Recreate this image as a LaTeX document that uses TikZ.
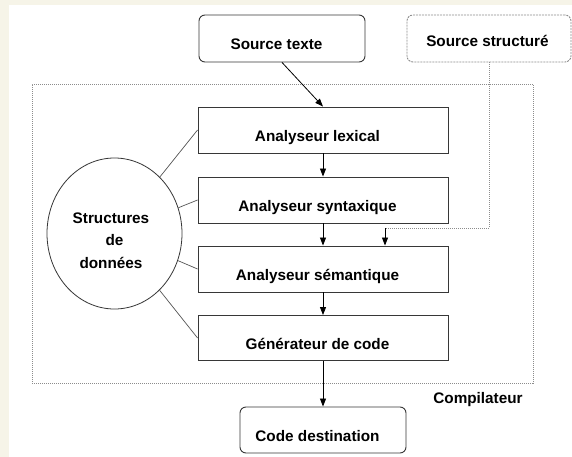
\documentclass[tikz,border=0pt]{standalone}
\usepackage{fontspec}
\setmainfont{Liberation Sans}
\usetikzlibrary{arrows.meta,shapes.geometric}
\definecolor{cream}{RGB}{246,244,232}
\definecolor{edge}{RGB}{55,55,55}
\definecolor{dotc}{RGB}{140,140,140}
\newcommand{\lpad}{\hspace*{11pt}}
\begin{document}
\begin{tikzpicture}[x=1pt,y=-1pt,
  every node/.style={font=\fontsize{15.3}{22.5}\selectfont\bfseries},
  box/.style={draw=edge, line width=0.9pt, minimum width=250pt, inner sep=0pt, text height=23pt, text depth=0pt},
  term/.style={draw=edge, line width=0.9pt, rounded corners=6pt, inner sep=0pt, text height=22pt, text depth=0pt},
  arr/.style={-{Triangle[length=8pt,width=6pt]}, line width=0.8pt},
  link/.style={draw=edge!85, line width=0.7pt},
  dotline/.style={draw=dotc, line width=0.7pt, dash pattern=on 1pt off 1pt}]
\fill[cream] (0,0) rectangle (572,457);
\fill[white] (9,5) rectangle (572,457);
% frame
\node[dotline, minimum width=501pt, minimum height=299pt, inner sep=0pt] (frame) at (282.5,233.5) {};
\node (lbl) at (478,400) {Compilateur};
% terminals
\node[term, minimum width=166pt, minimum height=47pt] (stex) at (282,38.5) {Source texte\lpad};
\node[term, draw=dotc, dash pattern=on 2pt off 1pt, minimum width=164pt, minimum height=47pt, text height=17pt] (sstr) at (489,38.5) {Source structuré\hspace*{3pt}};
\node[term, minimum width=166pt, minimum height=46pt] (dest) at (323,430) {Code destination\lpad};
% phases
\node[box, minimum height=46pt] (lex) at (323,130) {Analyseur lexical\lpad};
\node[box, minimum height=46pt] (syn) at (323,200) {Analyseur syntaxique\lpad};
\node[box, minimum height=46pt] (sem) at (323,269) {Analyseur sémantique\lpad};
\node[box, minimum height=45pt] (gen) at (323,338) {Générateur de code\lpad};
% data structures
\node[ellipse, draw=edge, line width=0.8pt, minimum width=135pt, minimum height=151pt, inner sep=0pt, align=center, text height=69pt, text depth=0pt] (ds) at (114.5,233.5) {Structures\hspace*{7pt}\\de\hspace*{7pt}\\données\hspace*{7pt}};
% arrows
\draw[arr] (stex.south) -- (lex.north);
\draw[arr] (lex.south) -- (syn.north);
\draw[arr] (syn.south) -- (sem.north);
\draw[arr] (sem.south) -- (gen.north);
\draw[arr] (gen.south) -- (dest.north);
\coordinate (turn) at (385,228);
\draw[dotline] (sstr.south) |- (turn);
\draw[arr] (turn) -- (turn |- sem.north);
% links
\draw[link] (lex.west) -- (ds);
\draw[link] (syn.west) -- (ds);
\draw[link] (sem.west) -- (ds);
\draw[link] (gen.west) -- (ds);
\end{tikzpicture}
\end{document}
